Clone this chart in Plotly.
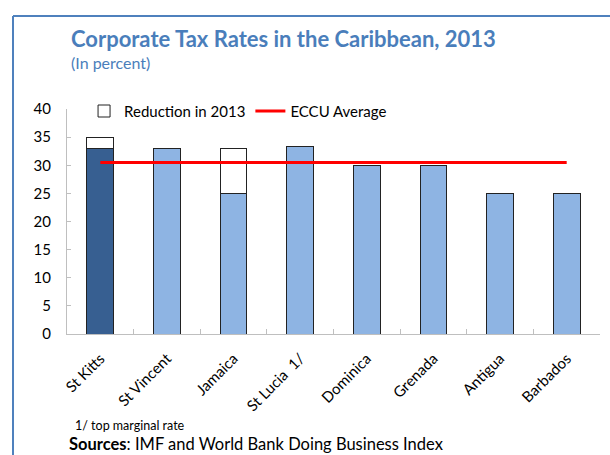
import plotly.graph_objects as go

# Corporate tax rates, 2013 (percent)
countries = ["St Kitts", "St Vincent", "Jamaica", "St Lucia  1/", "Dominica",
             "Grenada", "Antigua", "Barbados"]
rate_2013 = [33, 33, 25, 33.3, 30, 30, 25, 25]
reduction_2013 = [2, 0, 8, 0, 0, 0, 0, 0]
eccu_average = 30.5

bar_colors = ["#375f91"] + ["#8eb4e3"] * (len(countries) - 1)
font_family = "Lato, 'Open Sans', sans-serif"
title_color = "#4a7ebb"
axis_gray = "#bfbfbf"

fig = go.Figure()
fig.add_trace(go.Bar(
    x=countries, y=rate_2013, marker=dict(color=bar_colors, line=dict(color="#222", width=1)),
    showlegend=False, width=0.4,
))
fig.add_trace(go.Bar(
    x=countries, y=reduction_2013, name="Reduction in 2013",
    marker=dict(color="white", line=dict(color="#222", width=1)), width=0.4,
))
fig.add_trace(go.Scatter(
    x=[countries[0], countries[-1]], y=[eccu_average, eccu_average],
    mode="lines", name="ECCU Average", line=dict(color="#ff0000", width=3),
))

fig.update_layout(
    width=610, height=455,
    margin=dict(l=67, r=10, t=109, b=121),
    paper_bgcolor="white", plot_bgcolor="white",
    barmode="stack",
    font=dict(family=font_family, color="black"),
    legend=dict(orientation="h", x=0.032, y=0.99, xanchor="left", yanchor="middle",
                bgcolor="rgba(0,0,0,0)", font=dict(size=15), traceorder="normal",
                itemwidth=30),
    xaxis=dict(type="category", showline=True, linecolor=axis_gray, linewidth=1,
               ticks="inside", tickson="boundaries", ticklen=5, tickcolor=axis_gray,
               tickangle=-45, tickfont=dict(size=15), showgrid=False,
               ticklabelstandoff=9),
    yaxis=dict(range=[0, 40], dtick=5, showline=True, linecolor=axis_gray, linewidth=1,
               ticks="inside", ticklen=4, tickcolor=axis_gray, showgrid=False,
               zeroline=False, tickfont=dict(size=15), ticklabelstandoff=12),
    shapes=[
        dict(type="line", xref="paper", yref="paper", x0=-0.1013, x1=-0.1013, y0=1.413, y1=-0.75,
             line=dict(color="#4f81bd", width=2)),
        dict(type="line", xref="paper", yref="paper", x0=-0.1013, x1=1.1, y0=1.413, y1=1.413,
             line=dict(color="#4f81bd", width=2)),
    ],
    annotations=[
        dict(text="<b>Corporate Tax Rates in the Caribbean, 2013</b>", xref="paper", yref="paper",
             x=0.003, y=1.315, xanchor="left", yanchor="middle", showarrow=False,
             font=dict(size=22, color=title_color)),
        dict(text="(In percent)", xref="paper", yref="paper", x=0.003, y=1.205,
             xanchor="left", yanchor="middle", showarrow=False,
             font=dict(size=16, color=title_color)),
        dict(text="1/ top marginal rate", xref="paper", yref="paper", x=0.012, y=-0.405,
             xanchor="left", yanchor="middle", showarrow=False, font=dict(size=12.5)),
        dict(text="<b>Sources</b>: IMF and World Bank Doing Business Index", xref="paper",
             yref="paper", x=0.0, y=-0.487, xanchor="left", yanchor="middle",
             showarrow=False, font=dict(size=16.5)),
    ],
)

fig.write_html("out.html")
